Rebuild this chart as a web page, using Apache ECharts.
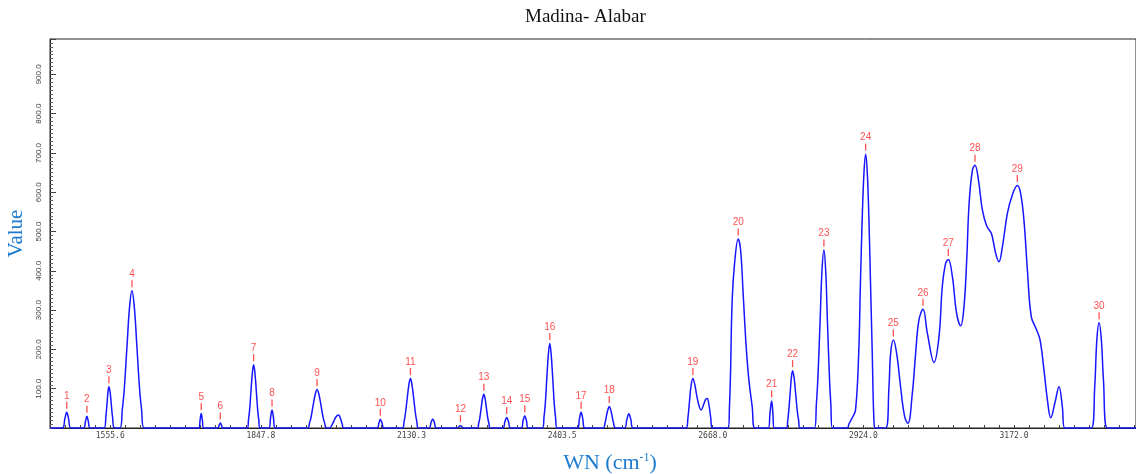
<!DOCTYPE html>
<html>
<head>
<meta charset="utf-8">
<title>Madina- Alabar</title>
<script src="https://cdn.jsdelivr.net/npm/echarts@6/dist/echarts.min.js"></script>
<style>
  html, body { margin: 0; padding: 0; background: #fff; }
  #chart { width: 1136px; height: 474px; }
</style>
</head>
<body>
<div id="chart"></div>
<script>
// x = scan position: one unit per minor tick, a labelled tick every 10 units
var xTickLabels = ['1555.6', '1847.8', '2130.3', '2403.5', '2668.0', '2924.0', '3172.0'];

// spectrum trace
var specX = [
  -4,
  -3.19, -3.01, -2.89, -2.77, -2.61,
  -1.77, -1.64, -1.55, -1.46, -1.33,
  -0.40, -0.29, -0.21, -0.15, -0.09, -0.01, 0.06, 0.15, 0.29,
  0.64, 0.80, 0.93, 1.12, 1.28, 1.44, 1.60, 1.76, 1.95, 2.08, 2.24,
  5.87, 5.97, 6.04, 6.11, 6.21,
  7.13, 7.24, 7.31, 7.38, 7.48,
  9.10, 9.18, 9.25, 9.35, 9.44, 9.52, 9.60, 9.69, 9.79, 9.86, 9.94,
  10.52, 10.65, 10.74, 10.83, 10.96,
  13.10, 13.23, 13.33, 13.48, 13.61, 13.73, 13.85, 13.98, 14.13, 14.23, 14.36,
  14.55, 14.80, 14.98, 15.16, 15.28, 15.40, 15.50,
  17.72, 17.84, 17.93, 18.04, 18.18,
  19.40, 19.51, 19.59, 19.72, 19.83, 19.93, 20.03, 20.14, 20.27, 20.35, 20.46,
  21.16, 21.30, 21.41, 21.52, 21.66,
  23.05, 23.17, 23.25, 23.33, 23.45,
  24.38, 24.46, 24.53, 24.63, 24.72, 24.80, 24.88, 24.97, 25.07, 25.14, 25.22,
  26.06, 26.20, 26.32, 26.44, 26.58,
  27.28, 27.41, 27.52, 27.63, 27.76,
  28.70, 28.80, 28.88, 28.99, 29.09, 29.18, 29.27, 29.37, 29.48, 29.56, 29.66,
  31.02, 31.15, 31.26, 31.37, 31.50,
  32.71, 32.86, 32.96, 33.05, 33.13, 33.21, 33.30, 33.40, 33.55,
  34.14, 34.30, 34.43, 34.56, 34.72,
  38.24, 38.35, 38.45, 38.55, 38.68, 38.80, 38.95, 39.10, 39.23, 39.38, 39.52, 39.63, 39.75, 39.87, 39.97,
  41.03, 41.11, 41.18, 41.29, 41.45, 41.69, 41.85, 42.03, 42.22, 42.40, 42.62, 42.80,
  43.69, 43.80, 43.91, 43.99, 44.08,
  44.90, 44.98, 45.04, 45.14, 45.22, 45.30, 45.40, 45.50, 45.62, 45.70, 45.79,
  46.76, 46.88, 46.98, 47.13, 47.25, 47.38, 47.50, 47.61, 47.75, 47.84, 47.94,
  48.93, 49.04, 49.26, 49.48, 49.69, 49.80, 49.92, 50.04, 50.15, 50.26, 50.37, 50.48, 50.59, 50.70, 50.80,
  51.48, 51.70, 51.81, 51.99, 52.21, 52.47, 52.74, 52.96, 53.25, 53.47, 53.69, 53.96, 54.25, 54.69,
  55.02, 55.24, 55.46, 55.64, 55.91, 56.19, 56.46, 56.68, 56.86, 57.02, 57.24, 57.41, 57.64, 57.90,
  58.19, 58.50, 58.78, 59.00, 59.23, 59.56, 59.89, 60.22, 60.44, 60.66, 60.89, 61.15, 61.51, 61.73,
  61.99, 62.22, 62.44, 62.71, 62.99, 63.21, 63.37,
  65.14, 65.36, 65.50, 65.65, 65.80, 65.94, 66.20,
  68.1
];
var specY = [
  0,
  0, 24, 40, 24, 0,
  0, 18, 30, 18, 0,
  0, 29, 64, 92, 105, 92, 64, 29, 0,
  0, 47, 98, 213, 307, 349, 307, 213, 98, 47, 0,
  0, 22, 37, 22, 0,
  0, 8, 13, 8, 0,
  0, 22, 45, 98, 142, 161, 142, 98, 45, 22, 0,
  0, 28, 46, 28, 0,
  0, 13, 27, 60, 86, 98, 86, 60, 27, 13, 0,
  0, 14, 28, 33, 25, 10, 0,
  0, 13, 22, 13, 0,
  0, 17, 35, 77, 111, 126, 111, 77, 35, 17, 0,
  0, 14, 23, 14, 0,
  0, 4, 6, 4, 0,
  0, 12, 24, 52, 76, 86, 76, 52, 24, 12, 0,
  0, 16, 27, 16, 0,
  0, 19, 31, 19, 0,
  0, 29, 60, 131, 189, 215, 189, 131, 60, 29, 0,
  0, 24, 40, 24, 0,
  0, 15, 34, 48, 55, 48, 34, 15, 0,
  0, 22, 36, 22, 0,
  0, 25, 65, 105, 126, 112, 80, 55, 46, 58, 72, 75, 58, 25, 0,
  0, 54, 139, 326, 419, 481, 453, 334, 207, 122, 54, 0,
  0, 38, 69, 40, 0,
  0, 20, 41, 89, 128, 146, 128, 89, 41, 20, 0,
  0, 61, 127, 276, 399, 453, 399, 276, 127, 61, 0,
  0, 10, 26, 46, 190, 360, 529, 650, 697, 650, 529, 360, 190, 20, 0,
  0, 105, 190, 224, 190, 105, 29, 12, 88, 190, 275, 302, 241, 167,
  232, 360, 419, 429, 385, 292, 260, 309, 427, 572, 656, 669, 631, 555,
  514, 495, 445, 423, 461, 546, 593, 617, 597, 529, 402, 283, 249, 224,
  148, 71, 26, 63, 105, 54, 0,
  0, 105, 224, 268, 224, 122, 0,
  0
];

// numbered peak markers
var peakNo = [1, 2, 3, 4, 5, 6, 7, 8, 9, 10, 11, 12, 13, 14, 15, 16, 17, 18, 19, 20, 21, 22, 23, 24, 25, 26, 27, 28, 29, 30];
var peakX = [-2.89, -1.55, -0.09, 1.44, 6.04, 7.31, 9.52, 10.74, 13.73, 17.93, 19.93, 23.25, 24.80, 26.32, 27.52,
  29.18, 31.26, 33.13, 38.68, 41.69, 43.91, 45.30, 47.38, 50.15, 51.99, 53.96, 55.64, 57.41, 60.22, 65.65];
var peakY = [40, 30, 105, 349, 37, 13, 161, 46, 98, 22, 126, 6, 86, 27, 31,
  215, 40, 55, 126, 481, 69, 146, 453, 697, 224, 302, 429, 669, 617, 268];

var blue = '#1d7ccf';
var red = '#ff2424';

var chart = echarts.init(document.getElementById('chart'));
chart.setOption({
  animation: false,
  backgroundColor: '#fff',
  title: {
    text: 'Madina- Alabar',
    left: 525,
    top: 8,
    padding: 0,
    textStyle: { fontFamily: 'Liberation Serif', fontSize: 19, fontWeight: 'normal', color: '#111' }
  },
  grid: {
    left: 50, right: 0, top: 39, bottom: 46,
    outerBoundsMode: 'none',
    show: true, borderColor: '#222', borderWidth: 1
  },
  xAxis: {
    type: 'value',
    min: -4,
    max: 68.1,
    interval: 1,
    name: '{a|WN (cm}{s|-1}{a|)}',
    nameLocation: 'middle',
    nameGap: 24,
    nameTextStyle: {
      padding: [0, 0, 0, 34],
      rich: {
        a: { fontFamily: 'Liberation Serif', fontSize: 22, color: blue },
        s: { fontFamily: 'Liberation Serif', fontSize: 12, color: blue, verticalAlign: 'top' }
      }
    },
    axisLine: { onZero: false, lineStyle: { color: '#222' } },
    axisTick: { inside: true, length: 3, lineStyle: { color: '#444' } },
    axisLabel: {
      margin: 4,
      fontFamily: 'DejaVu Sans Mono',
      fontSize: 8,
      color: '#444',
      formatter: function (v) {
        if (v >= 0 && v % 10 === 0 && v / 10 < xTickLabels.length) {
          return xTickLabels[v / 10];
        }
        return '';
      }
    },
    splitLine: { show: false }
  },
  yAxis: {
    type: 'value',
    min: 0,
    max: 990,
    interval: 100,
    name: 'Value',
    nameLocation: 'middle',
    nameGap: 20,
    nameTextStyle: { fontFamily: 'Liberation Serif', fontSize: 21, color: blue },
    axisLine: { show: true, onZero: false, lineStyle: { color: '#222' } },
    axisTick: { show: true, inside: true, length: 6, lineStyle: { color: '#444' } },
    minorTick: { show: true, splitNumber: 10, length: 3, lineStyle: { color: '#666' } },
    axisLabel: {
      rotate: 90,
      margin: 7,
      fontSize: 8,
      color: '#444',
      showMaxLabel: false,
      formatter: function (v) { return v === 0 ? '' : v.toFixed(1); }
    },
    splitLine: { show: false }
  },
  series: [
    {
      name: 'spectrum',
      type: 'line',
      data: specX.map(function (x, i) { return [x, specY[i]]; }),
      showSymbol: false,
      smooth: 0.4,
      lineStyle: { color: '#1616ff', width: 1.5 },
      silent: true
    },
    {
      name: 'peaks',
      type: 'scatter',
      data: peakX.map(function (x, i) { return [x, peakY[i], peakNo[i]]; }),
      symbol: 'rect',
      symbolSize: [1.3, 7],
      symbolOffset: [0, -7],
      itemStyle: { color: red },
      label: {
        show: true,
        position: 'top',
        distance: 1,
        color: red,
        fontFamily: 'Liberation Sans',
        fontSize: 10,
        formatter: function (p) { return p.data[2]; }
      },
      z: 3,
      silent: true
    }
  ]
});
</script>
</body>
</html>
